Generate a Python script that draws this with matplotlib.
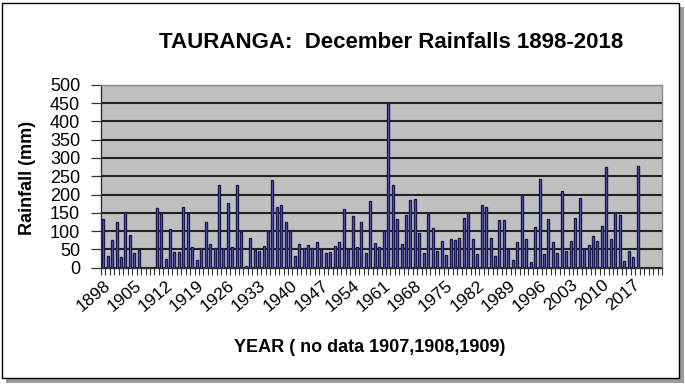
import matplotlib
matplotlib.use("Agg")
import matplotlib.pyplot as plt
from matplotlib.patches import Rectangle
import numpy as np

plt.rcParams['font.family'] = ['Liberation Sans', 'DejaVu Sans']

# Categories on the axis (axis runs to 2023, data to 2018)
first_year = 1898
n_categories = 126
years = list(range(1898, 2019))
rainfall = [
    134, 33, 75, 124, 29, 153, 89, 40, 47,          # 1898-1906
    None, None, None,                                # 1907-1909 no data
    163, 148, 23, 106, 43, 44, 165, 148, 57, 22,    # 1910-1919
    53, 126, 64, 55, 225, 50, 176, 57, 226, 97,     # 1920-1929
    5, 82, 49, 45, 59, 101, 240, 167, 171, 125,     # 1930-1939
    100, 31, 65, 53, 61, 54, 70, 50, 39, 44,        # 1940-1949
    60, 69, 161, 50, 141, 57, 126, 40, 183, 67,     # 1950-1959
    57, 100, 449, 225, 134, 64, 145, 184, 189, 95,  # 1960-1969
    39, 148, 109, 46, 72, 35, 79, 77, 80, 135,      # 1970-1979
    149, 78, 37, 170, 165, 81, 32, 131, 131, 47,    # 1980-1989
    22, 69, 200, 79, 15, 112, 243, 38, 133, 71,     # 1990-1999
    40, 210, 46, 73, 136, 190, 51, 61, 86, 73,      # 2000-2009
    115, 275, 79, 149, 145, 17, 45, 30, 278,        # 2010-2018
]
tick_labels = ['1898', '1905', '1912', '1919', '1926', '1933', '1940', '1947',
               '1954', '1961', '1968', '1975', '1982', '1989', '1996', '2003',
               '2010', '2017']
y_ticks = [0, 50, 100, 150, 200, 250, 300, 350, 400, 450, 500]

W, H = 685, 384
fig = plt.figure(figsize=(W / 100, H / 100), dpi=100)
fig.patch.set_facecolor('white')

# outer frame with shadow
fig.patches.append(Rectangle((6 / W, 1 - 383 / H), 678 / W, 376 / H, transform=fig.transFigure,
                             facecolor='#9a9a9a', edgecolor='none', zorder=-3))
fig.patches.append(Rectangle((2 / W, 1 - 378 / H), 677 / W, 375 / H, transform=fig.transFigure,
                             facecolor='white', edgecolor='black', lw=1.0, zorder=-2))

ax = fig.add_axes([101 / W, 1 - 267.7 / H, 561 / W, 183 / H])
ax.set_facecolor('#c0c0c0')

idx = [y - first_year for y in years]
vals = [np.nan if v is None else v for v in rainfall]
ax.bar(idx, vals, width=0.45, color='#6b6bcf', edgecolor='#1a1a50', linewidth=1.0, zorder=3)

ax.set_xlim(-0.5, n_categories - 0.5)
ax.set_ylim(0, 500)
ax.set_yticks(y_ticks)
ax.set_yticklabels([str(t) for t in y_ticks], fontsize=13)
ax.yaxis.grid(True, color='#222222', linewidth=1.5, zorder=1)
ax.set_axisbelow(True)

# major ticks at labels, minor ticks at category boundaries
label_pos = [int(t) - first_year for t in tick_labels]
ax.set_xticks(label_pos)
ax.set_xticklabels(tick_labels, rotation=40, ha='right', va='top',
                   rotation_mode='anchor', fontsize=12.5)
ax.tick_params(axis='x', which='major', length=0, pad=7)
ax.set_xticks(np.arange(-0.5, n_categories, 1.0), minor=True)
ax.tick_params(axis='x', which='minor', length=5, width=0.8, color='#333333', direction='out')
ax.tick_params(axis='y', length=7, width=0.9, color='#333333', pad=8)

for s in ['top', 'right']:
    ax.spines[s].set_color('#8a8a8a')
    ax.spines[s].set_linewidth(1.0)
for s in ['left', 'bottom']:
    ax.spines[s].set_color('#333333')
    ax.spines[s].set_linewidth(1.0)

fig.text(391 / W, 1 - 42 / H, 'TAURANGA:  December Rainfalls 1898-2018', ha='center', va='center',
         fontsize=16, fontweight='bold', color='black')
fig.text(370 / W, 1 - 348 / H, 'YEAR ( no data 1907,1908,1909)', ha='center', va='center',
         fontsize=13, fontweight='bold', color='black')
fig.text(27 / W, 1 - 178 / H, 'Rainfall (mm)', ha='center', va='center', rotation=90,
         fontsize=13, fontweight='bold', color='black')

fig.savefig('out.png', dpi=100)
